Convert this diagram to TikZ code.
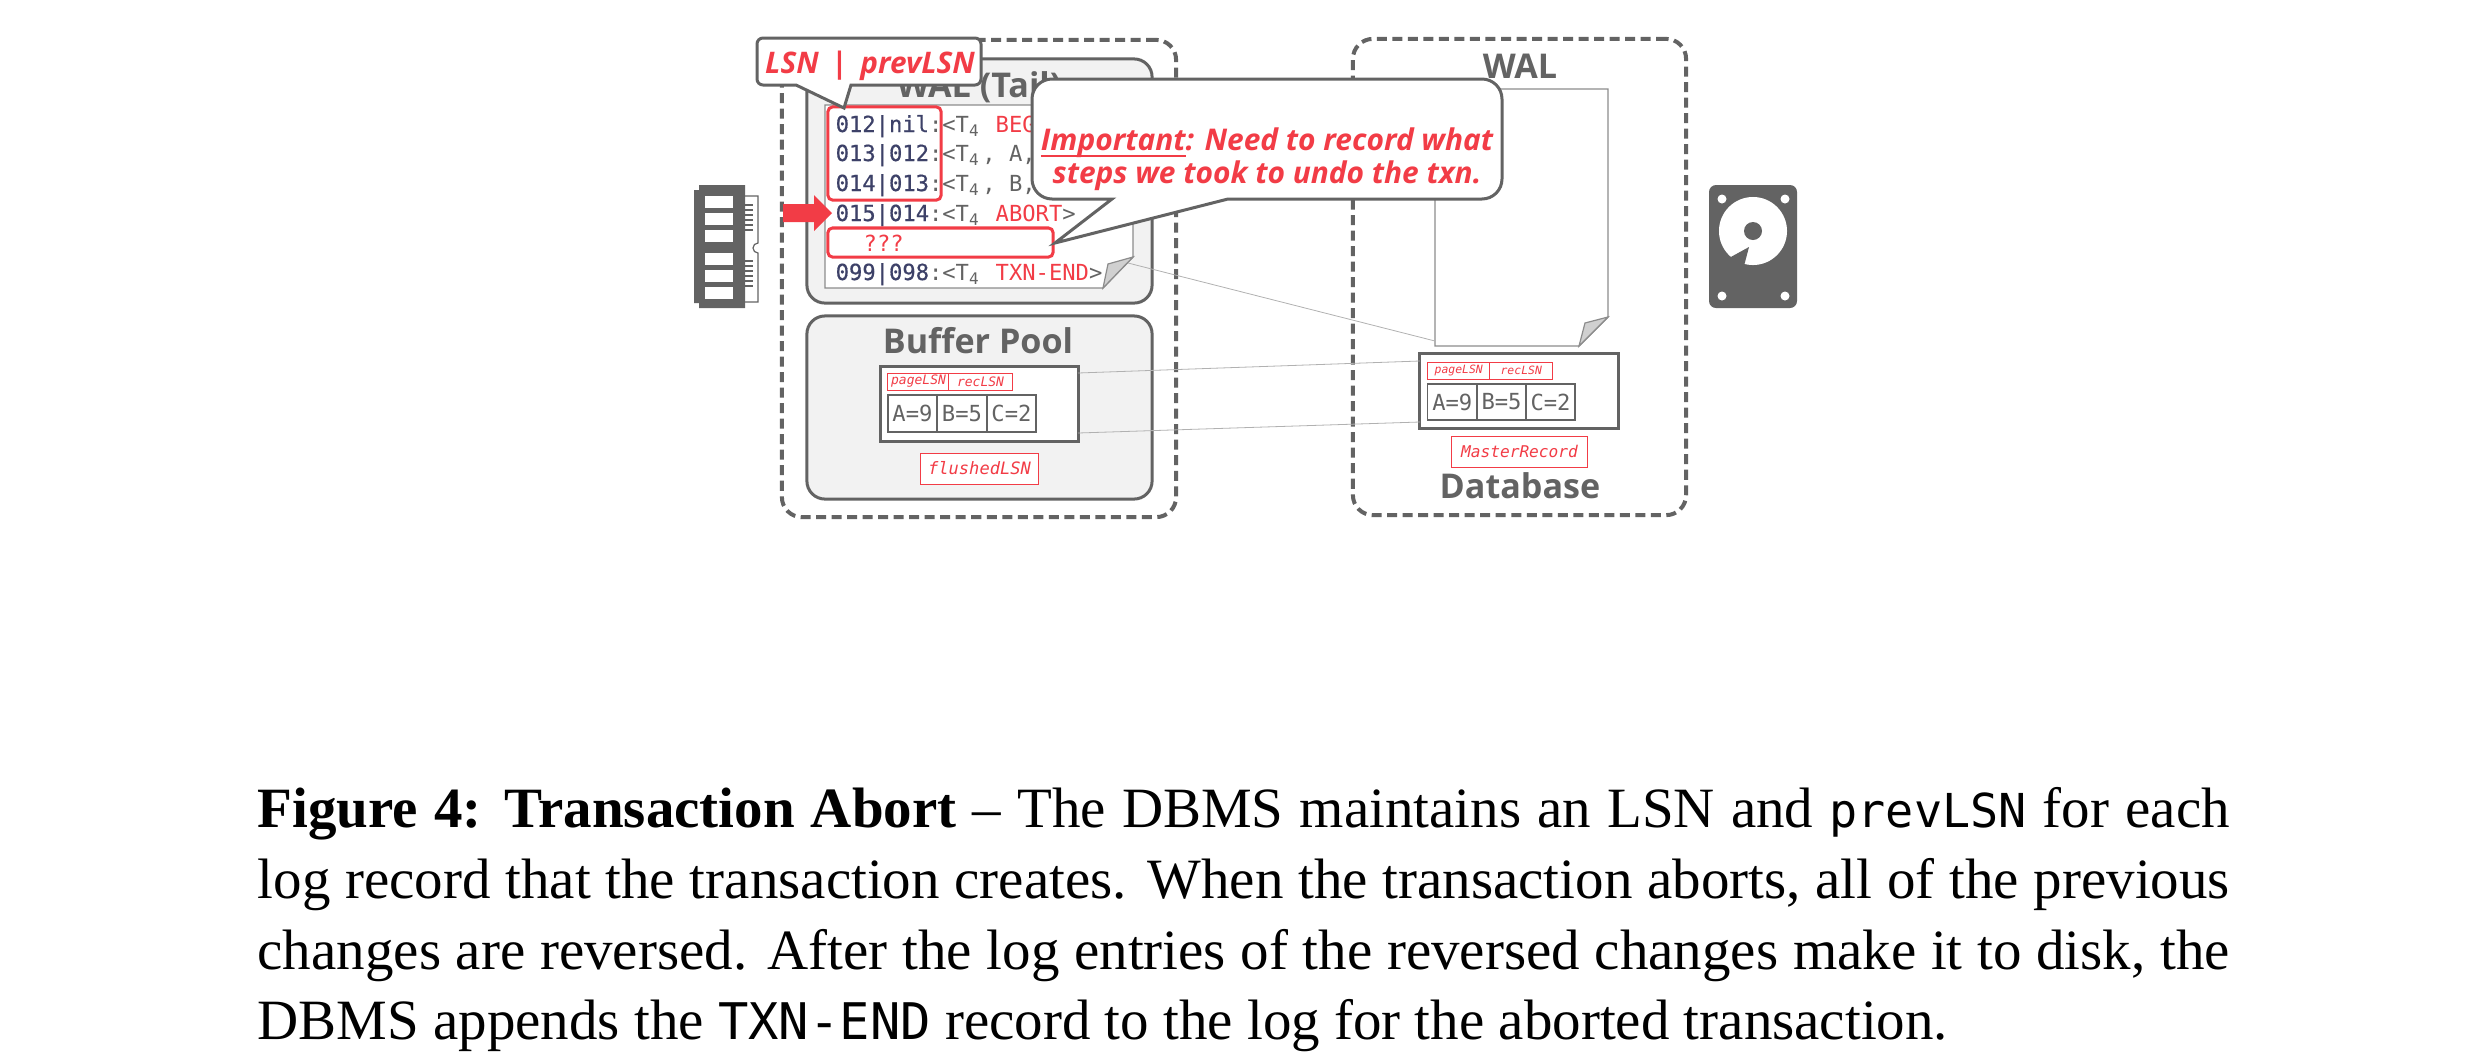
\documentclass[tikz,border=0pt]{standalone}
\usepackage{fontspec}
\setmainfont{Liberation Serif}
\setmonofont{DejaVu Sans Mono}
\newfontfamily\labelfont{Open Sans}
\newfontfamily\lsnfont[FakeBold=.6]{DejaVu Sans Mono}

\definecolor{inkgray}{HTML}{636363}
\definecolor{alertred}{HTML}{F23C46}
\definecolor{lsnblue}{HTML}{3D4168}
\definecolor{panelgray}{HTML}{F2F2F2}
\definecolor{foldgray}{HTML}{D0D0D0}
\definecolor{sheetgray}{HTML}{8C8C8C}

\newcommand{\lsn}[1]{\textcolor{lsnblue}{\lsnfont #1}}
\newcommand{\rec}[1]{\textcolor{alertred}{#1}}
\newcommand{\tfour}{T\makebox[.6em][l]{\raisebox{-.35ex}{\scalebox{.72}{4}}}}
\newcommand{\lowline}[1]{\setbox0\hbox{#1}\rlap{\rule[-2.1pt]{\wd0}{.7pt}}\box0}

\tikzset{
	memory/.style={draw=inkgray,dashed,dash pattern=on .1cm off .055cm,line width=.04cm,rounded corners=.2cm,inner sep=0},
	panel/.style={draw=inkgray,fill=panelgray,line width=.03cm,rounded corners=.18cm,inner sep=0},
	title/.style={text=inkgray,inner sep=0,anchor=base,font=\labelfont\bfseries\fontsize{9.7}{10}\selectfont},
	sheet/.style={draw=sheetgray,fill=white,line width=.014cm},
	fold/.style={draw=sheetgray,fill=foldgray,line width=.012cm},
	record/.style={text=inkgray,inner sep=0,anchor=base west,font=\ttfamily\fontsize{6.3}{7}\selectfont},
	redbox/.style={draw=alertred,line width=.03cm,rounded corners=.045cm,inner sep=0},
	page/.style={draw=inkgray,fill=white,line width=.03cm,inner sep=0},
	cell/.style={draw=inkgray,fill=white,line width=.014cm,inner sep=0,text=inkgray,font=\ttfamily\fontsize{6.3}{7}\selectfont},
	field/.style={draw=alertred,fill=white,line width=.01cm,inner sep=0,text=alertred,font=\ttfamily\itshape\fontsize{3.7}{4}\selectfont},
	wire/.style={draw=foldgray!85!black,line width=.008cm},
	callout/.style={draw=inkgray,fill=white,line width=.03cm},
	callouttext/.style={text=alertred,inner sep=0,anchor=base,font=\labelfont\bfseries\itshape\fontsize{8.5}{9}\selectfont},
	icon/.style={fill=inkgray,draw=none},
	hole/.style={fill=white,draw=none},
	pin/.style={draw=inkgray,line width=.018cm},
}

\begin{document}
\begin{tikzpicture}[x=.01cm,y=-.01cm]
	\useasboundingbox (0,0) rectangle (2468,1060);
	
	\node[memory,minimum width=3.94cm,minimum height=4.77cm] (volatile) at (979,278.5) {};
	\node[memory,minimum width=3.33cm,minimum height=4.76cm] (stable) at (1519.5,277) {};
	
	\node[panel,minimum width=3.45cm,minimum height=2.44cm] (tailpanel) at (979.5,181) {};
	\node[panel,minimum width=3.45cm,minimum height=1.83cm] (poolpanel) at (979.5,407.5) {};
	\node[title] (tailtitle) at (979,97) {WAL (Tail)};
	\node[title] (pooltitle) at (978,353) {Buffer Pool};
	\node[title] (waltitle) at (1520,78) {WAL};
	\node[title] (dbtitle) at (1520,498) {Database};
	
	\draw[sheet] (825,105) -- (1133,105) -- (1133,257) -- (1103,288) -- (825,288) -- cycle;
	\draw[fold] (1103,288) -- (1133,257) -- (1108,264) -- cycle;
	\coordinate (tailcurl) at (1128,263);
	
	\node[record] (row12) at (835,132) {\lsn{012|nil}:<\tfour{} \rec{BEGIN>}};
	\node[record] (row13) at (835,161) {\lsn{013|012}:<\tfour, A,};
	\node[record] (row14) at (835,191) {\lsn{014|013}:<\tfour, B,};
	\node[record] (row15) at (835,221) {\lsn{015|014}:<\tfour{} \rec{ABORT}>};
	\node[record] (row99) at (835,280) {\lsn{099|098}:<\tfour{} \rec{TXN-END}>};
	\node[record,text=alertred] (unknown) at (863,251) {???};
	\node[redbox,minimum width=1.13cm,minimum height=.93cm] (lsnbox) at (884.5,153.5) {};
	\node[redbox,minimum width=2.25cm,minimum height=.29cm] (unknownbox) at (940.5,242.5) {};
	\draw[fill=alertred,draw=none] (783,204) -- (814,204) -- (814,195) -- (832,213) -- (814,231) -- (814,222) -- (783,222) -- cycle;
	
	\node[page,minimum width=1.97cm,minimum height=.74cm] (poolpage) at (979.5,404) {};
	\node[field,minimum width=.61cm,minimum height=.17cm] (poolpagelsn) at (918.5,381.5) {pageLSN};
	\node[field,minimum width=.63cm,minimum height=.17cm] (poolreclsn) at (980.5,381.5) {recLSN};
	\node[cell,minimum width=.49cm,minimum height=.37cm] (poola) at (912.5,413.5) {A=9};
	\node[cell,minimum width=.50cm,minimum height=.37cm] (poolb) at (962,413.5) {B=5};
	\node[cell,minimum width=.49cm,minimum height=.37cm] (poolc) at (1011.5,413.5) {C=2};
	\node[field,minimum width=1.17cm,minimum height=.31cm,font=\ttfamily\itshape\fontsize{4.85}{5}\selectfont] (flushed) at (979.5,468.5) {flushedLSN};
	\coordinate (pooltop) at (1078,373);
	\coordinate (poollow) at (1078,433);
	
	\draw[sheet] (1435,89) -- (1608,89) -- (1608,317) -- (1579,346) -- (1435,346) -- cycle;
	\draw[fold] (1579,346) -- (1608,317) -- (1585,323) -- cycle;
	\coordinate (walcorner) at (1435,341);
	
	\node[page,minimum width=1.98cm,minimum height=.74cm] (dbpage) at (1519,391) {};
	\node[field,minimum width=.625cm,minimum height=.17cm,font=\ttfamily\itshape\fontsize{3.25}{4}\selectfont] (dbpagelsn) at (1458.75,370.5) {pageLSN};
	\node[field,minimum width=.625cm,minimum height=.17cm,font=\ttfamily\itshape\fontsize{3.25}{4}\selectfont] (dbreclsn) at (1521.25,370.5) {recLSN};
	\node[cell,minimum width=.495cm,minimum height=.36cm] (dba) at (1452.25,402) {A=9};
	\node[cell,minimum width=.49cm,minimum height=.36cm] (dbb) at (1501.5,402) {B=5};
	\node[cell,minimum width=.49cm,minimum height=.36cm] (dbc) at (1550.5,402) {C=2};
	\node[field,minimum width=1.35cm,minimum height=.31cm,font=\ttfamily\itshape\fontsize{4.6}{5}\selectfont] (master) at (1519.5,451.5) {MasterRecord};
	\coordinate (dbtop) at (1420,361);
	\coordinate (dblow) at (1420,422);
	
	\draw[wire] (tailcurl) -- (walcorner);
	\draw[wire] (pooltop) -- (dbtop);
	\draw[wire] (poollow) -- (dblow);
	
	\draw[callout] (851,85) -- (844,108) -- (796,85) [rounded corners=.06cm] -- (757,85) -- (757,38) -- (981,38) -- (981,85) [sharp corners] -- cycle;
	\node[callouttext,font=\labelfont\bfseries\itshape\fontsize{8.45}{9}\selectfont] (lsnlabel) at (870,73) {LSN\ \,|\ \,prevLSN};
	\draw[callout] (1112,199) -- (1055,243) -- (1228,199) [rounded corners=.2cm] -- (1502,199) -- (1502,79) -- (1032,79) -- (1032,199) [sharp corners] -- cycle;
	\node[callouttext] (notea) at (1267,150) {\lowline{Important}: Need to record what};
	\node[callouttext] (noteb) at (1267,183) {steps we took to undo the txn.};
	
	\draw[icon] (699,185) -- (745,185) -- (745,308) -- (699,308) -- (699,303) -- (694,303) -- (694,190) -- (699,190) -- cycle;
	\fill[hole] (705,196) rectangle (733,208);
	\fill[hole] (705,213) rectangle (733,225);
	\fill[hole] (705,230) rectangle (733,242);
	\fill[hole] (705,253) rectangle (733,265);
	\fill[hole] (705,270) rectangle (733,282);
	\fill[hole] (705,287) rectangle (733,299);
	\draw[pin,line width=.012cm] (745,196) -- (758,196) -- (758,243) arc (90:270:.05cm) -- (758,302) -- (745,302);
	\draw[pin] (745,205) -- (753,205);
	\draw[pin] (745,210) -- (753,210);
	\draw[pin] (745,215) -- (753,215);
	\draw[pin] (745,220) -- (753,220);
	\draw[pin] (745,225) -- (753,225);
	\draw[pin] (745,230) -- (753,230);
	\draw[pin] (745,261) -- (753,261);
	\draw[pin] (745,266) -- (753,266);
	\draw[pin] (745,271) -- (753,271);
	\draw[pin] (745,276) -- (753,276);
	\draw[pin] (745,281) -- (753,281);
	\draw[pin] (745,286) -- (753,286);
	
	\fill[icon,rounded corners=.07cm] (1709,185) rectangle (1797,308);
	\fill[hole] (1753,231) circle (.34cm);
	\fill[icon] (1753,231) circle (.09cm);
	\fill[icon] (1729,258) -- (1749,247) -- (1744,266) -- (1742,272) -- (1728,268) -- cycle;
	\fill[hole] (1722,199) circle (.045cm);
	\fill[hole] (1785,199) circle (.045cm);
	\fill[hole] (1722,296) circle (.045cm);
	\fill[hole] (1785,296) circle (.045cm);
	
	\node[anchor=north west,inner sep=0,text width=19.71cm,align=justify,font=\fontsize{16.2}{20.1}\selectfont] (caption) at (257,787) {\textbf{Figure 4: Transaction Abort} -- The DBMS maintains an LSN and {\ttfamily\fontsize{13.3}{20}\selectfont prevLSN} for each\linebreak log record that the transaction creates. When the transaction aborts, all of the previous\linebreak changes are reversed. After the log entries of the reversed changes make it to disk, the\linebreak DBMS appends the {\ttfamily\fontsize{14.35}{20}\selectfont TXN-END} record to the log for the aborted transaction.};
	
\end{tikzpicture}
\end{document}
